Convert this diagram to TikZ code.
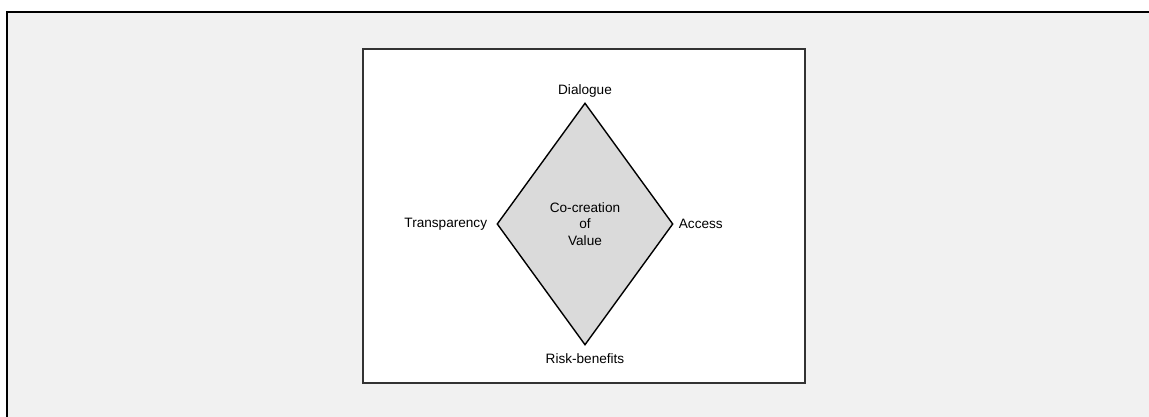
\documentclass[tikz,border=0pt]{standalone}
\usepackage{fontspec}
\setmainfont{Liberation Sans}
\usetikzlibrary{shapes.geometric,positioning}
\definecolor{panelgray}{HTML}{F1F1F1}
\definecolor{framegray}{HTML}{333333}
\definecolor{dotgray}{HTML}{DADADA}
\begin{document}
\begin{tikzpicture}[x=1pt, y=-1pt, font=\fontsize{13.6}{16.5}\selectfont,
        lbl/.style={inner sep=0pt}]
        \useasboundingbox (0, 0) rectangle (1149, 417);
        \fill[panelgray] (7, 12) rectangle (1152, 420);
        \draw[line width=2pt] (7, 420) -- (7, 12) -- (1152, 12);
        \draw[framegray, fill=white, line width=1.8pt] (363, 49) rectangle (805, 383);
        \node[diamond, draw, line width=1.4pt, fill=dotgray, inner sep=0pt, minimum width=176pt, minimum height=242pt, align=center] (cocr) at (585, 224) {Co-creation\\of\\Value};
        \node[lbl, above=5pt of cocr.north] (dial) {Dialogue};
        \node[lbl, left=9pt of cocr.west] (trans) {Transparency};
        \node[lbl, right=5pt of cocr.east] (acc) {Access};
        \node[lbl, below=8pt of cocr.south] (risk) {Risk-benefits};
    \end{tikzpicture}
\end{document}
